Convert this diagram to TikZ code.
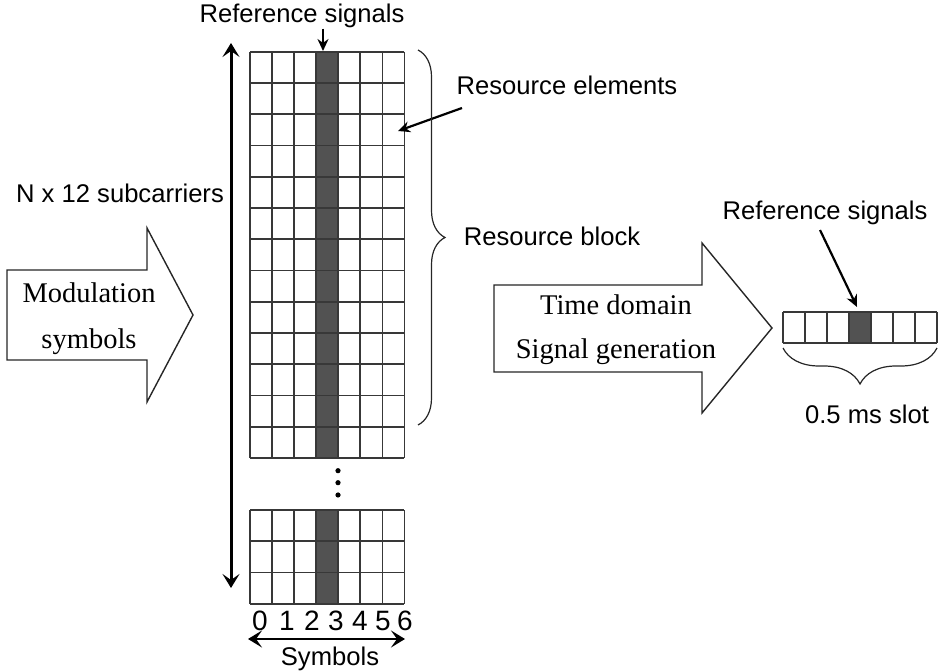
\documentclass[tikz,border=0pt]{standalone}
\usepackage{fontspec}
\setmainfont{Liberation Serif}
\setsansfont{Liberation Sans}
\usetikzlibrary{arrows.meta,decorations.pathreplacing}

\begin{document}
\begin{tikzpicture}[x=0.5pt,y=-0.5pt,
  lbl/.style={font=\fontsize{12.8}{15}\sffamily, inner sep=0pt, anchor=base},
  serif/.style={font=\fontsize{14.25}{17}\rmfamily, inner sep=0pt, anchor=base},
  gridline/.style={draw=black!78, line width=0.9pt},
  rsfill/.style={fill=black!68},
  blockarrow/.style={draw=black!85, line width=0.7pt, fill=white},
  ptr/.style={-{Stealth[length=6pt,width=5.5pt]}, line width=1.1pt},
  spanhead/.style={Stealth[length=7pt,width=8.5pt,inset=3pt]},
  span/.style={{Stealth[length=7pt,width=8.5pt,inset=3pt]}-{Stealth[length=7pt,width=8.5pt,inset=3pt]}, line width=1.5pt},
  curly/.style={decorate, decoration={brace, amplitude=#1}, line width=0.6pt, draw=black!85},
]
\useasboundingbox (0,0) rectangle (941,672);
\def\cw{22.07}
\def\rh{31.25}

% ---- resource block grid (13 subcarriers x 7 symbols) ----
\fill[rsfill] ({250+3*\cw},51.7) rectangle ({250+4*\cw},458);
\foreach \i in {0,...,7} \draw[gridline] ({250+\i*\cw},51.7) -- ({250+\i*\cw},458);
\foreach \j in {0,...,13} \draw[gridline] (250,{51.7+\j*\rh}) -- ({250+7*\cw},{51.7+\j*\rh});

% ---- continuation dots ----
\foreach \y in {470.7,482.7,495} \fill (338,\y) circle[radius=1.3pt];

% ---- lower grid (3 subcarriers x 7 symbols) ----
\fill[rsfill] ({250+3*\cw},510) rectangle ({250+4*\cw},{510+3*\rh});
\foreach \i in {0,...,7} \draw[gridline] ({250+\i*\cw},510) -- ({250+\i*\cw},{510+3*\rh});
\foreach \j in {0,...,3} \draw[gridline] (250,{510+\j*\rh}) -- ({250+7*\cw},{510+\j*\rh});

% ---- symbol indices ----
\foreach \k/\x in {0/260,1/287,2/312,3/336,4/360,5/383,6/405}
  \node[lbl, font=\fontsize{14}{16}\sffamily] (sym\k) at (\x,630) {\k};
\coordinate (symL) at (248,639);
\coordinate (symR) at (405,639);
\draw[span, line width=1.3pt] (symL) -- (symR);
\node[lbl] (symbols) at (330,665) {Symbols};

% ---- subcarrier axis ----
\coordinate (axTop) at (231,43);
\coordinate (axBot) at (231,588);
\draw[span] (axTop) -- (axBot);
\node[lbl] (nsub) at (120,203) {N x 12 subcarriers};

% ---- labels on the resource grid ----
\node[lbl] (refL) at (302,23) {Reference signals};
\coordinate (rsTop) at (323,51);
\draw[ptr] (refL.south -| rsTop) -- (rsTop);

\node[lbl] (relem) at (567,95) {Resource elements};
\coordinate (reTip) at (398,131);
\coordinate (reStart) at (462,108);
\draw[ptr] (reStart) -- (reTip);

\coordinate (rbTop) at (418,50);
\coordinate (rbBot) at (418,425);
\draw[curly=13.5pt] (rbTop) -- (rbBot);
\node[lbl] (rblock) at (552,246) {Resource block};

% ---- modulation symbols block arrow ----
\draw[blockarrow] (7,270) -- (147,270) -- (147,228) -- (193,315) -- (147,402) -- (147,360) -- (7,360) -- cycle;
\node[serif] (mod1) at (89,303) {Modulation};
\node[serif] (mod2) at (89,349) {symbols};

% ---- time domain signal generation block arrow ----
\draw[blockarrow] (494,285) -- (702,285) -- (702,243) -- (772,328) -- (702,413) -- (702,372) -- (494,372) -- cycle;
\node[serif] (tgen1) at (616,315) {Time domain};
\node[serif] (tgen2) at (616,359) {Signal generation};

% ---- slot of 7 symbols ----
\fill[rsfill] ({783+3*22},312) rectangle ({783+4*22},343);
\foreach \i in {0,...,7} \draw[gridline] ({783+\i*22},312) -- ({783+\i*22},343);
\foreach \y in {312,343} \draw[gridline] (783,\y) -- (937,\y);

\node[lbl] (refR) at (825,220) {Reference signals};
\coordinate (slotTip) at (857,307);
\coordinate (slotStart) at (820,230);
\draw[ptr] (slotStart) -- (slotTip);

\coordinate (slR) at (937,348);
\coordinate (slL) at (783,348);
\draw[curly=18pt] (slR) -- (slL);
\node[lbl] (slot) at (867,424) {0.5 ms slot};
\end{tikzpicture}
\end{document}
